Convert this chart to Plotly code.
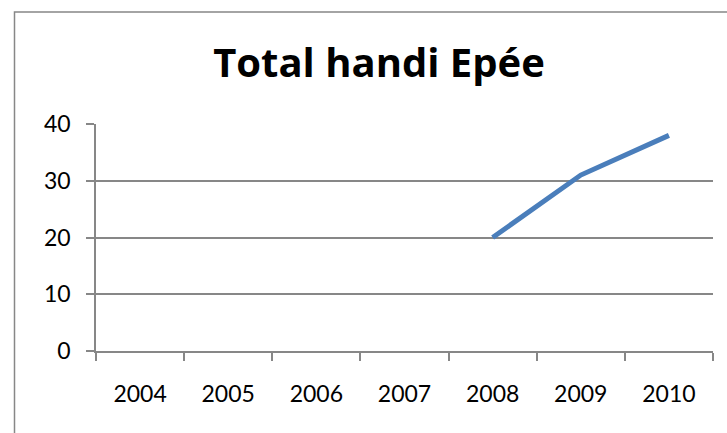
import plotly.graph_objects as go

years = ["2004", "2005", "2006", "2007", "2008", "2009", "2010"]
totals = [None, None, None, None, 20, 31, 38]
y_ticks = [0, 10, 20, 30, 40]

GRAY = "#878787"
FONT = "Lato"

fig = go.Figure()
fig.add_trace(go.Scatter(
    x=years, y=totals, mode="lines",
    line=dict(color="#4A7EBB", width=5),
    connectgaps=False, showlegend=False, hoverinfo="skip",
))

fig.update_layout(
    width=727, height=433,
    margin=dict(l=96, r=14, t=124, b=82),
    paper_bgcolor="white", plot_bgcolor="white",
    font=dict(family=FONT, color="black", size=23),
    title=dict(text="<b>Total handi Epée</b>", x=379 / 727, xanchor="center",
               y=1 - 63 / 433, yanchor="middle",
               font=dict(family="Open Sans", size=40, color="black")),
    shapes=[dict(type="rect", xref="paper", yref="paper",
                 x0=(14.5 - 96) / 617, x1=1.3, y0=-1.0, y1=(351 - 12) / 227,
                 line=dict(color=GRAY, width=1.5), layer="below")],
)
fig.update_xaxes(
    type="category", range=[-0.5, 6.5], showline=True, linecolor=GRAY, linewidth=1.5,
    ticks="outside", tickson="boundaries", ticklen=8, tickcolor=GRAY, tickwidth=1.5,
    showgrid=False, ticklabelstandoff=22,
)
fig.update_yaxes(
    range=[0, 40], tickvals=y_ticks, showline=True, linecolor=GRAY, linewidth=1.5,
    ticks="outside", ticklen=8, tickcolor=GRAY, tickwidth=1.5,
    showgrid=True, gridcolor=GRAY, gridwidth=1.5, zeroline=False,
    ticklabelstandoff=11,
)

fig.write_html("out.html", config={"displayModeBar": False},
               post_script="document.body.style.margin='0';")
